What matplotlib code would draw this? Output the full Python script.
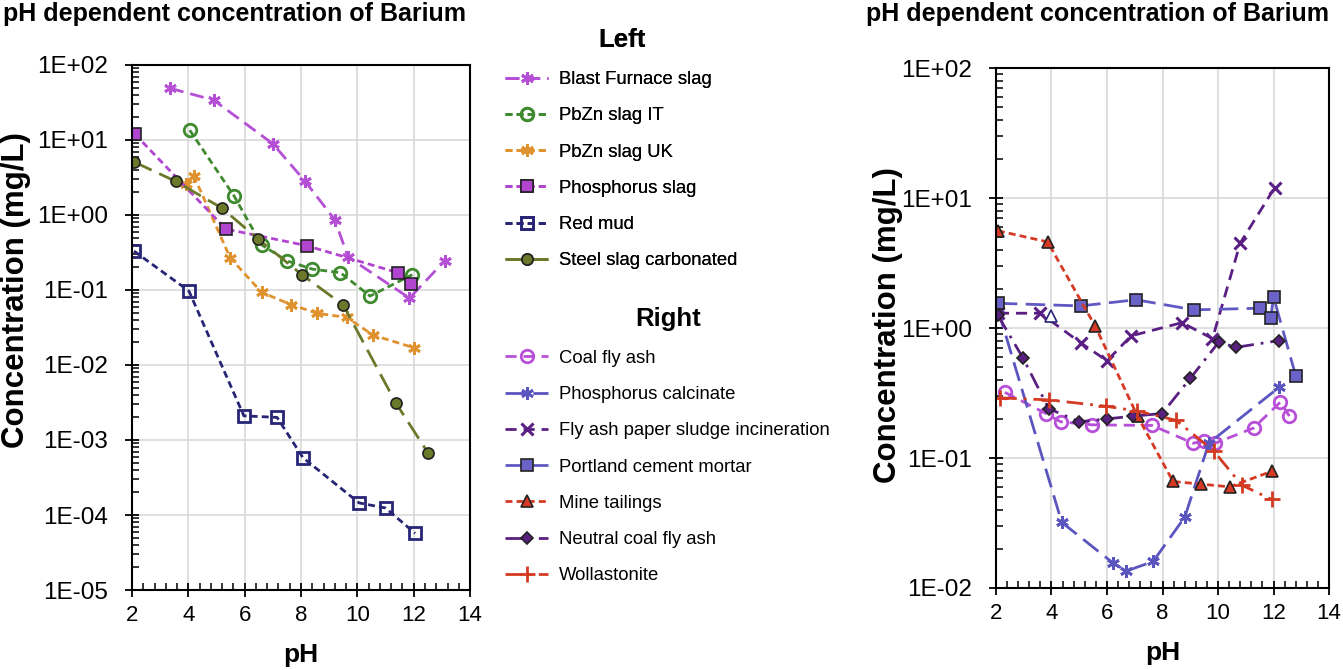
import matplotlib
matplotlib.use("Agg")
import matplotlib.pyplot as plt
from matplotlib.ticker import LogLocator, MultipleLocator, FuncFormatter, NullFormatter

plt.rcParams['font.family'] = ['Liberation Sans', 'DejaVu Sans']

# ---- left panel data (pH, mg/L) ----
bf_ph = [3.35, 4.9, 7.0, 8.15, 9.2, 9.67, 11.85, 13.1]
bf_c = [49, 34, 8.9, 2.8, 0.86, 0.275, 0.078, 0.245]

it_ph = [4.05, 5.62, 6.6, 7.5, 8.4, 9.4, 10.45, 11.95]
it_c = [13.5, 1.8, 0.40, 0.245, 0.19, 0.17, 0.083, 0.16]

uk_ph = [3.9, 4.2, 5.48, 6.6, 7.64, 8.57, 9.63, 10.56, 12.0]
uk_c = [2.6, 3.3, 0.27, 0.093, 0.064, 0.049, 0.043, 0.025, 0.017]

ps_ph = [2.1, 5.33, 8.2, 11.44, 11.9]
ps_c = [12, 0.65, 0.39, 0.17, 0.12]

rm_ph = [2.07, 4.02, 5.97, 7.15, 8.07, 10.06, 11.0, 12.05]
rm_c = [0.33, 0.097, 0.0021, 0.0020, 0.00058, 0.000145, 0.000124, 0.000057]

ss_ph = [2.07, 3.56, 5.2, 6.47, 8.03, 9.5, 11.37, 12.5]
ss_c = [5.1, 2.8, 1.23, 0.48, 0.16, 0.063, 0.0031, 0.00068]

# ---- right panel data ----
cfa_ph = [2.32, 3.8, 4.33, 5.47, 7.63, 9.1, 9.5, 9.9, 11.28, 12.25, 12.57]
cfa_c = [0.32, 0.22, 0.19, 0.18, 0.178, 0.13, 0.135, 0.13, 0.17, 0.27, 0.21]

pc_ph = [2.07, 4.37, 6.23, 6.7, 7.66, 8.8, 9.67, 12.2]
pc_c = [1.4, 0.032, 0.0155, 0.0135, 0.016, 0.035, 0.13, 0.35]

fps_ph = [2.07, 3.6, 5.05, 6.0, 6.87, 8.7, 9.8, 10.8, 12.04]
fps_c = [1.3, 1.3, 0.77, 0.56, 0.87, 1.1, 0.83, 4.5, 12]

pcm_ph = [2.07, 5.05, 7.05, 9.13, 11.5, 11.9, 12.0, 12.8]
pcm_c = [1.55, 1.48, 1.65, 1.38, 1.42, 1.2, 1.73, 0.43]

mt_ph = [2.07, 3.86, 5.58, 7.1, 8.38, 9.38, 10.42, 11.93]
mt_c = [5.6, 4.6, 1.03, 0.21, 0.066, 0.063, 0.06, 0.079]

ncfa_ph = [2.07, 2.97, 3.9, 5.0, 6.0, 6.95, 7.99, 9.0, 10.03, 10.64, 12.18]
ncfa_c = [1.25, 0.59, 0.24, 0.19, 0.2, 0.21, 0.22, 0.41, 0.78, 0.71, 0.8]

wol_ph = [2.15, 3.9, 5.97, 7.09, 8.49, 9.85, 10.85, 11.93]
wol_c = [0.29, 0.28, 0.25, 0.23, 0.195, 0.113, 0.062, 0.048]

extra_ph = [3.97]
extra_c = [1.23]

fig = plt.figure(figsize=(13.43, 6.7), dpi=100)
axl = fig.add_axes([0.0983, 0.1194, 0.2517, 0.7836])
axr = fig.add_axes([0.7416, 0.1224, 0.2480, 0.7760])

left_lines = []
left_lines.append(axl.plot(bf_ph, bf_c, color='#b44fd6', lw=2, dashes=(5, 2.5), marker=(6, 2, 0),
                           ms=9, mew=2, label='Blast Furnace slag')[0])
left_lines.append(axl.plot(it_ph, it_c, color='#3f8a2f', lw=2, dashes=(2.5, 1.5), marker='o', ms=9,
                           mfc='none', mew=2, label='PbZn slag IT')[0])
left_lines.append(axl.plot(uk_ph, uk_c, color='#e0922e', lw=2, dashes=(2.5, 1.5), marker=(6, 2, 0),
                           ms=9, mew=2, label='PbZn slag UK')[0])
left_lines.append(axl.plot(ps_ph, ps_c, color='#b245cf', lw=2, dashes=(2.5, 1.5), marker='s', ms=9,
                           mfc='#b245cf', mec='#222222', mew=1.2, label='Phosphorus slag')[0])
left_lines.append(axl.plot(rm_ph, rm_c, color='#272575', lw=2, dashes=(2.5, 1.5), marker='s', ms=9,
                           mfc='none', mew=2, label='Red mud')[0])
left_lines.append(axl.plot(ss_ph, ss_c, color='#6b7a2a', lw=2, dashes=(7, 3), marker='o', ms=8,
                           mfc='#6b7a2a', mec='#222222', mew=1.2, label='Steel slag carbonated')[0])

right_lines = []
right_lines.append(axr.plot(cfa_ph, cfa_c, color='#b84fd8', lw=2, dashes=(4, 2.5), marker='o', ms=9,
                            mfc='none', mew=2, label='Coal fly ash')[0])
right_lines.append(axr.plot(pc_ph, pc_c, color='#5b55c0', lw=2, dashes=(7, 3), marker=(6, 2, 0),
                            ms=9, mew=2, label='Phosphorus calcinate')[0])
right_lines.append(axr.plot(fps_ph, fps_c, color='#5a1f84', lw=2, dashes=(4, 2.5), marker='x', ms=9,
                            mew=2.2, label='Fly ash paper sludge incineration')[0])
right_lines.append(axr.plot(pcm_ph, pcm_c, color='#6159c3', lw=2, dashes=(7, 3), marker='s', ms=9,
                            mfc='#6a62c8', mec='#222222', mew=1.2, label='Portland cement mortar')[0])
right_lines.append(axr.plot(mt_ph, mt_c, color='#d63a25', lw=2, dashes=(2.5, 1.5), marker='^', ms=9,
                            mfc='#d63a25', mec='#222222', mew=1.2, label='Mine tailings')[0])
right_lines.append(axr.plot(ncfa_ph, ncfa_c, color='#5a2080', lw=2, dashes=(6, 2.5, 1, 2.5), marker='D',
                            ms=6.5, mfc='#5a2080', mec='#222222', mew=1.2, label='Neutral coal fly ash')[0])
right_lines.append(axr.plot(wol_ph, wol_c, color='#d43a22', lw=2, dashes=(6, 2.5, 1, 2.5), marker='+',
                            ms=11, mew=2, label='Wollastonite')[0])
axr.plot(extra_ph, extra_c, ls='none', marker='^', ms=8, mfc='white', mec='#272575', mew=1.2)

for ax, lo in ((axl, 1e-5), (axr, 1e-2)):
    ax.set_yscale('log')
    ax.set_ylim(lo, 100)
    ax.set_xlim(2, 14)
    ax.xaxis.set_major_locator(MultipleLocator(2))
    ax.xaxis.set_minor_locator(MultipleLocator(0.4))
    ax.yaxis.set_major_locator(LogLocator(base=10, numticks=20))
    ax.yaxis.set_minor_locator(LogLocator(base=10, subs=range(2, 10), numticks=20))
    ax.yaxis.set_major_formatter(FuncFormatter(lambda v, p: f"{v:.0E}"))
    ax.yaxis.set_minor_formatter(NullFormatter())
    ax.grid(True, which='major', color='#d9d9d9', lw=1.2)
    ax.set_axisbelow(True)
    ax.tick_params(which='major', direction='inout', length=10, width=1.3)
    ax.tick_params(axis='x', which='major', labelsize=16, pad=6)
    ax.tick_params(axis='y', which='major', labelsize=17.5, pad=12)
    ax.tick_params(which='minor', direction='in', length=5, width=1.1)
    for s in ax.spines.values():
        s.set_linewidth(1.5)
        s.set_color('black')
    ax.set_xlabel('pH', fontsize=19, fontweight='bold', labelpad=12)
    ax.set_ylabel('Concentration (mg/L)', fontsize=22.5, fontweight='bold')

axl.yaxis.set_label_coords(-0.30, 0.571)
axr.yaxis.set_label_coords(-0.28, 0.506)

fig.text(0.002, 0.997, 'pH dependent concentration of Barium', fontsize=18, fontweight='bold',
         ha='left', va='top')
fig.text(0.645, 0.997, 'pH dependent concentration of Barium', fontsize=18, fontweight='bold',
         ha='left', va='top')

legl = fig.legend(handles=left_lines, loc='upper left', bbox_to_anchor=(0.364, 0.983), frameon=False,
                  fontsize=13.3, title='Left', title_fontproperties={'weight': 'bold', 'size': 18.5},
                  labelspacing=1.04, handlelength=2.32, handletextpad=0.6)
fig.legend(handles=right_lines, loc='upper left', bbox_to_anchor=(0.364, 0.567), frameon=False,
           fontsize=13.3, title='Right', title_fontproperties={'weight': 'bold', 'size': 18.5},
           labelspacing=1.04, handlelength=2.32, handletextpad=0.6)
fig.add_artist(legl)

fig.savefig('out.png', dpi=100)
